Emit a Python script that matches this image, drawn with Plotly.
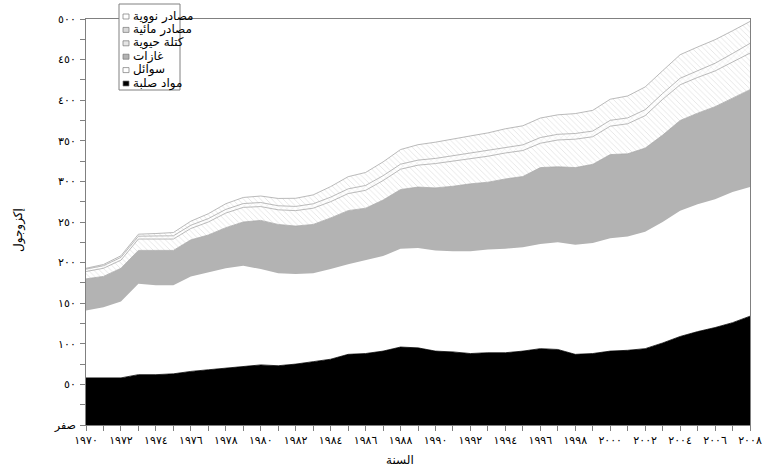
import plotly.graph_objects as go

# World primary energy supply by source, exajoules
years = list(range(1970, 2009))

solids = [58, 58, 58, 62, 62, 63, 66, 68, 70, 72, 74, 73, 75, 78, 81, 87, 88, 91, 96, 95,
          91, 90, 88, 89, 89, 91, 94, 93, 87, 88, 91, 92, 94, 101, 109, 115, 120, 126, 134]
liquids = [83, 87, 94, 112, 110, 109, 117, 120, 123, 124, 118, 114, 111, 109, 111, 111, 115, 117, 121, 123,
           124, 124, 126, 127, 128, 128, 129, 132, 135, 136, 139, 140, 144, 149, 155, 157, 158, 161, 159]
gases = [39, 38, 41, 41, 43, 43, 45, 46, 50, 54, 60, 60, 59, 60, 63, 66, 64, 69, 73, 75,
         77, 80, 83, 83, 86, 87, 94, 93, 95, 97, 103, 102, 103, 107, 111, 112, 114, 115, 120]
biomass = [9, 10, 10, 14, 14, 14, 14, 16, 18, 18, 17, 18, 19, 20, 20, 21, 22, 24, 25, 27,
           30, 31, 31, 32, 32, 32, 30, 33, 35, 34, 35, 37, 40, 44, 44, 44, 44, 45, 45]
hydro = [3, 3.2, 3.4, 3.5, 3.8, 4, 4, 4.2, 4.5, 4.7, 5, 5, 5.2, 5.4, 5.6, 5.8, 6, 6, 6.2, 6.2,
         6.3, 6.5, 6.5, 6.7, 6.8, 7, 7, 7, 7, 7, 7.2, 7.2, 7.3, 7.3, 8, 8.5, 9.5, 10.5, 12]
nuclear = [1, 1.5, 2, 2.5, 3, 4, 5, 6, 7, 7.5, 8, 9, 10, 11, 13, 15, 16, 17, 18, 19,
           20, 21, 21.5, 22, 23, 23.5, 24, 24, 24.5, 25.5, 26, 27, 28, 28, 29, 29, 29, 28, 27]

series_names = ["مواد صلبة", "سوائل", "غازات", "كتلة حيوية", "مصادر مائية", "مصادر نووية"]

x_tick_vals = list(range(1970, 2009, 2))
x_tick_text = ["١٩٧٠", "١٩٧٢", "١٩٧٤", "١٩٧٦", "١٩٧٨", "١٩٨٠", "١٩٨٢", "١٩٨٤", "١٩٨٦", "١٩٨٨",
               "١٩٩٠", "١٩٩٢", "١٩٩٤", "١٩٩٦", "١٩٩٨", "٢٠٠٠", "٢٠٠٢", "٢٠٠٤", "٢٠٠٦", "٢٠٠٨"]
y_tick_vals = list(range(0, 501, 50))
y_tick_text = ["صفر", "٥٠", "١٠٠", "١٥٠", "٢٠٠", "٢٥٠", "٣٠٠", "٣٥٠", "٤٠٠", "٤٥٠", "٥٠٠"]

FONT = "DejaVu Sans, Liberation Sans, sans-serif"
EDGE = "#a8a8a8"

styles = [
    dict(line=dict(color="black", width=0.8), fillcolor="black"),
    dict(line=dict(color="black", width=0), fillcolor="white"),
    dict(line=dict(color=EDGE, width=0.8), fillcolor="#b3b3b3"),
    dict(line=dict(color=EDGE, width=0.8),
         fillpattern=dict(shape="\\", fgcolor="#c4c4c4", bgcolor="white", size=4, solidity=0.2)),
    dict(line=dict(color=EDGE, width=0.8),
         fillpattern=dict(shape="x", fgcolor="#c8c8c8", bgcolor="white", size=4, solidity=0.2)),
    dict(line=dict(color=EDGE, width=0.8),
         fillpattern=dict(shape="\\", fgcolor="#c4c4c4", bgcolor="white", size=4, solidity=0.2)),
]

fig = go.Figure()
for name, vals, st in zip(series_names, [solids, liquids, gases, biomass, hydro, nuclear], styles):
    fig.add_trace(go.Scatter(x=years, y=vals, name=name, mode="lines", stackgroup="energy",
                             showlegend=False, hoverinfo="skip", **st))

# Legend box drawn by hand so entries read right-to-left
legend_fill = ["white", "#d8d8d8", "#e6e6e6", "#b3b3b3", "white", "black"]
legend_names = series_names[::-1]
y0_px, row_h = 16, 13.4
W, H = 765, 470
ml, mr, mt, mb = 86, 15, 19, 45
pw, ph = W - ml - mr, H - mt - mb


def px_x(px):
    return (px - ml) / pw


def px_y(py):
    return 1 - (py - mt) / ph


shapes = [dict(type="rect", xref="paper", yref="paper",
               x0=px_x(119), x1=px_x(180), y0=px_y(90), y1=px_y(4),
               line=dict(color="#808080", width=1), fillcolor="white", layer="above")]
annotations = []
for i, (nm, fc) in enumerate(zip(legend_names, legend_fill)):
    cy = y0_px + i * row_h
    shapes.append(dict(type="rect", xref="paper", yref="paper",
                       x0=px_x(123), x1=px_x(129), y0=px_y(cy + 3), y1=px_y(cy - 2),
                       line=dict(color="#777777", width=0.7), fillcolor=fc, layer="above"))
    annotations.append(dict(xref="paper", yref="paper", x=px_x(131), y=px_y(cy),
                            text=nm, showarrow=False, xanchor="left", yanchor="middle",
                            font=dict(family=FONT, size=12, color="black")))

# Axis titles
annotations.append(dict(xref="paper", yref="paper", x=px_x(400), y=px_y(460), text="السنة",
                        showarrow=False, xanchor="center", yanchor="middle",
                        font=dict(family=FONT, size=12, color="black")))
annotations.append(dict(xref="paper", yref="paper", x=px_x(18), y=px_y(230), text="إكزوجول",
                        showarrow=False, xanchor="center", yanchor="middle", textangle=-90,
                        font=dict(family=FONT, size=12, color="black")))

fig.update_layout(
    width=W, height=H,
    margin=dict(l=ml, r=mr, t=mt, b=mb, autoexpand=False),
    paper_bgcolor="white", plot_bgcolor="white",
    showlegend=False,
    font=dict(family=FONT, size=11, color="black"),
    shapes=shapes, annotations=annotations,
    xaxis=dict(range=[1970, 2008], tickvals=x_tick_vals, ticktext=x_tick_text, automargin=False,
               ticks="outside", ticklen=5, tickcolor="#808080", showgrid=False, zeroline=False,
               showline=True, linecolor="#808080", linewidth=1, mirror=True,
               minor=dict(dtick=1, tick0=1970, ticks="outside", ticklen=5, tickcolor="#808080"),
               tickfont=dict(size=11)),
    yaxis=dict(range=[0, 500], tickvals=y_tick_vals, ticktext=y_tick_text, automargin=False,
               ticks="outside", ticklen=5, tickcolor="#808080", showgrid=False, zeroline=False,
               showline=True, linecolor="#808080", linewidth=1, mirror=True,
               minor=dict(dtick=25, tick0=0, ticks="outside", ticklen=5, tickcolor="#808080"),
               tickfont=dict(size=11), ticklabelstandoff=2),
)

fig.write_html("out.html")
